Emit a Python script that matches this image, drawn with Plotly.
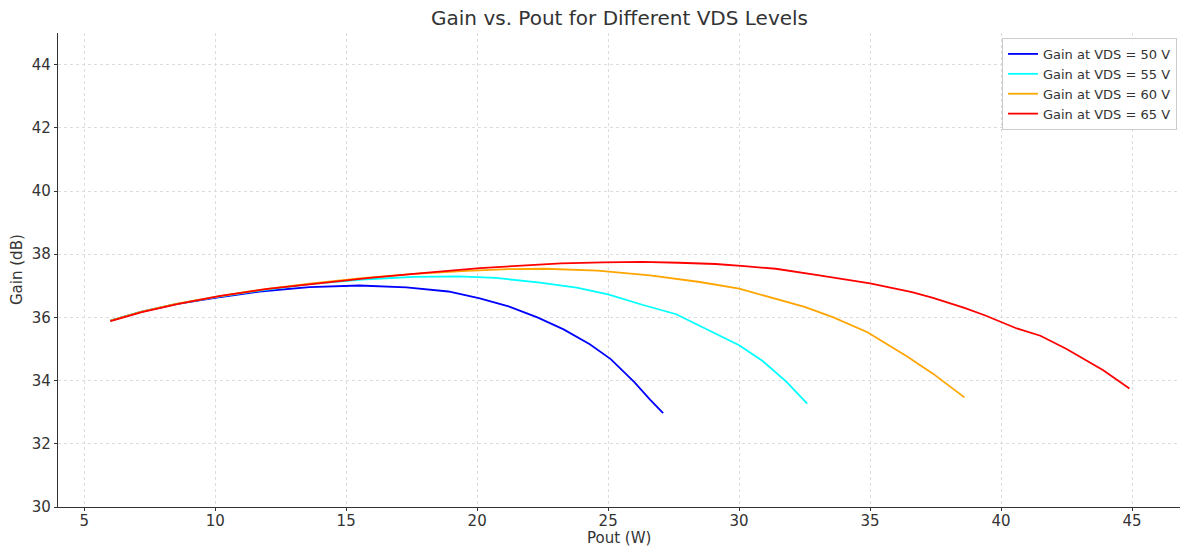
import plotly.graph_objects as go

# Data
pout_50 = [6.0, 7.2, 8.5, 10.0, 11.7, 13.6, 15.5, 17.3, 18.9, 20.1, 21.2, 22.3, 23.3, 24.3, 25.1, 26.0, 26.6, 27.1]
gain_50 = [35.9, 36.18, 36.42, 36.62, 36.82, 36.96, 37.01, 36.95, 36.82, 36.6, 36.35, 36.0, 35.62, 35.15, 34.68, 33.95, 33.4, 32.97]

pout_55 = [6.0, 7.2, 8.5, 10.0, 11.7, 13.6, 15.6, 17.6, 19.3, 20.7, 22.4, 23.8, 25.0, 26.3, 27.6, 28.8, 30.0, 30.9, 31.8, 32.6]
gain_55 = [35.9, 36.18, 36.42, 36.64, 36.85, 37.05, 37.2, 37.28, 37.3, 37.25, 37.1, 36.94, 36.73, 36.4, 36.1, 35.62, 35.12, 34.62, 33.97, 33.27]

pout_60 = [6.0, 7.2, 8.5, 10.0, 11.7, 13.6, 15.6, 17.6, 19.6, 21.2, 22.6, 24.6, 26.6, 28.5, 30.0, 31.3, 32.5, 33.6, 34.9, 36.4, 37.4, 38.6]
gain_60 = [35.9, 36.18, 36.43, 36.65, 36.87, 37.07, 37.24, 37.38, 37.47, 37.53, 37.54, 37.48, 37.33, 37.12, 36.91, 36.62, 36.33, 36.0, 35.53, 34.77, 34.22, 33.47]

pout_65 = [6.0, 7.2, 8.6, 10.2, 12.0, 13.9, 15.9, 18.0, 20.1, 21.7, 23.2, 24.8, 26.3, 27.7, 29.1, 30.2, 31.4, 33.0, 34.3, 35.0, 36.6, 37.4, 38.6, 39.4, 40.6, 41.5, 42.5, 43.3, 43.9, 44.9]
gain_65 = [35.88, 36.17, 36.43, 36.68, 36.9, 37.08, 37.25, 37.41, 37.56, 37.64, 37.71, 37.74, 37.76, 37.73, 37.69, 37.62, 37.54, 37.34, 37.17, 37.08, 36.8, 36.62, 36.3, 36.06, 35.65, 35.42, 35.0, 34.62, 34.33, 33.75]

series = [
    ("Gain at VDS = 50 V", pout_50, gain_50, "blue"),
    ("Gain at VDS = 55 V", pout_55, gain_55, "cyan"),
    ("Gain at VDS = 60 V", pout_60, gain_60, "orange"),
    ("Gain at VDS = 65 V", pout_65, gain_65, "red"),
]

FONT = "DejaVu Sans, Arial, sans-serif"
TXT = "#333333"

fig = go.Figure()
for name, x, y, c in series:
    fig.add_trace(go.Scatter(x=x, y=y, mode="lines", name=name,
                             line=dict(color=c, width=1.8)))

axis_common = dict(
    showgrid=True, gridcolor="#dddddd", griddash="dot", gridwidth=1,
    showline=True, linecolor="#333333", linewidth=1.2,
    ticks="outside", ticklen=3, tickcolor="#333333", tickwidth=1,
    zeroline=False, mirror=False, automargin=False,
    tickfont=dict(family=FONT, size=15, color=TXT),
)

fig.update_layout(
    width=1183, height=547,
    paper_bgcolor="white", plot_bgcolor="white",
    margin=dict(l=58, r=3, t=33, b=40, autoexpand=False),
    title=dict(text="Gain vs. Pout for Different VDS Levels", x=0.5237, xanchor="center",
               y=0.967, yanchor="middle",
               font=dict(family=FONT, size=20, color=TXT)),
    xaxis=dict(range=[4.0, 46.83], tickvals=[5, 10, 15, 20, 25, 30, 35, 40, 45],
               ticklabelstandoff=-3, **axis_common),
    yaxis=dict(range=[30, 45], tickvals=[30, 32, 34, 36, 38, 40, 42, 44],
               **axis_common),
    legend=dict(x=0.9973, y=0.9895, xanchor="right", yanchor="top",
                bgcolor="rgba(255,255,255,0.9)", bordercolor="#cccccc", borderwidth=1,
                font=dict(family=FONT, size=13, color=TXT),
                tracegroupgap=0, itemwidth=30),
    showlegend=True,
    annotations=[
        dict(text="Pout (W)", xref="paper", yref="paper", x=0.5, y=0, yshift=-31,
             xanchor="center", yanchor="middle", showarrow=False,
             font=dict(family=FONT, size=15, color=TXT)),
        dict(text="Gain (dB)", xref="paper", yref="paper", x=0, y=0.5, xshift=-41,
             xanchor="center", yanchor="middle", textangle=-90, showarrow=False,
             font=dict(family=FONT, size=15, color=TXT)),
    ],
)

fig.write_html("out.html")
